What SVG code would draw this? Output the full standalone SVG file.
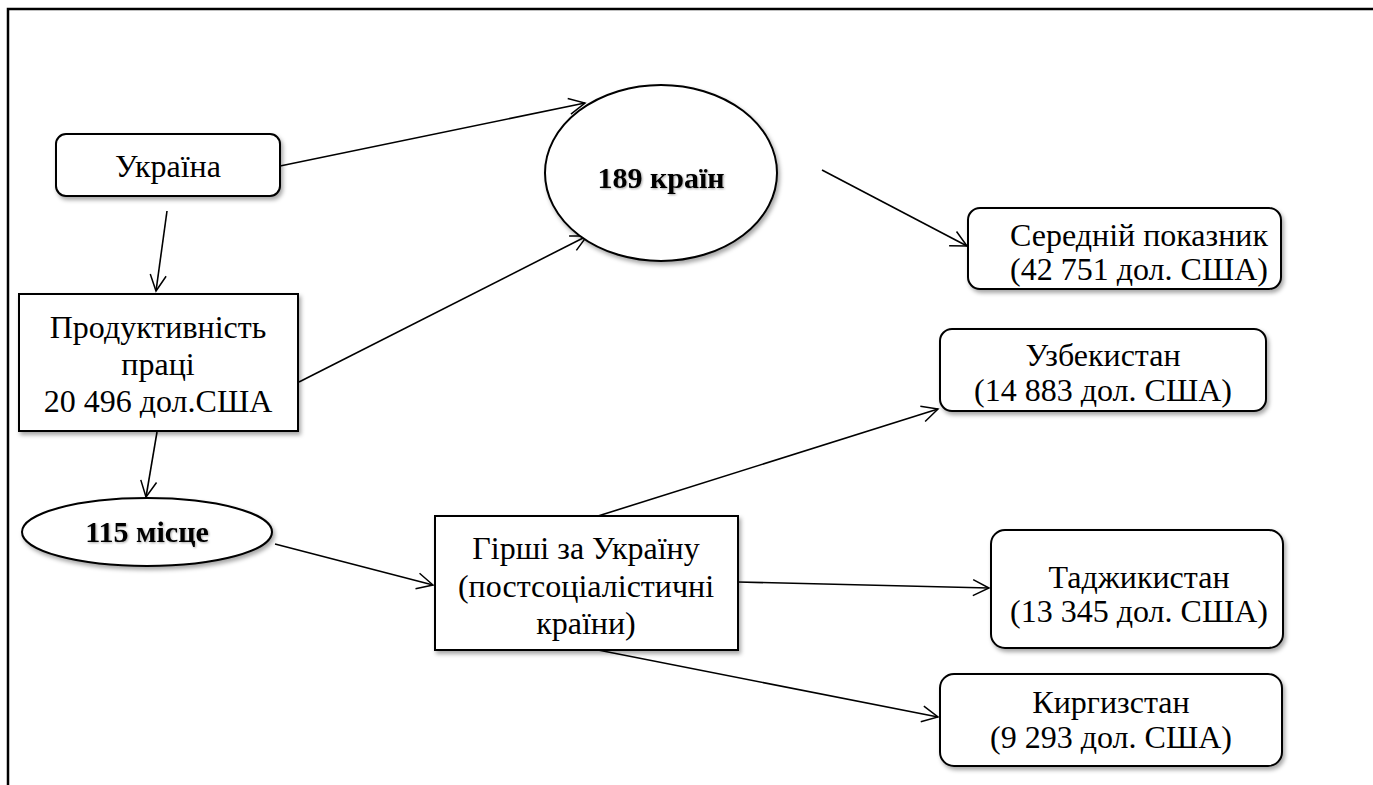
<svg xmlns="http://www.w3.org/2000/svg" width="1373" height="785" viewBox="0 0 1373 785">
<defs>
<filter id="sh" x="-10%" y="-10%" width="130%" height="140%">
<feDropShadow dx="2" dy="3" stdDeviation="2" flood-color="#000" flood-opacity="0.35"/>
</filter>
<filter id="tsh" x="-10%" y="-20%" width="120%" height="150%">
<feDropShadow dx="1" dy="1" stdDeviation="1" flood-color="#000" flood-opacity="0.35"/>
</filter>
<marker id="arr" viewBox="0 0 20 20" refX="18" refY="10" markerWidth="20" markerHeight="20" markerUnits="userSpaceOnUse" orient="auto">
<path d="M2,2 L18,10 L2,18" fill="none" stroke="#000" stroke-width="1.5"/>
</marker>
<style>
.box{fill:#fff;stroke:#000;stroke-width:2;filter:url(#sh)}
.t{font-family:"Liberation Serif","Times New Roman",serif;font-size:32px;fill:#000;text-anchor:middle}
.b{font-weight:bold;font-size:30px;filter:url(#tsh)}
.c{stroke:#000;stroke-width:1.6;fill:none;marker-end:url(#arr)}
</style>
</defs>
<rect width="1373" height="785" fill="#fff"/>
<path d="M8,785 V9 H1373" fill="none" stroke="#000" stroke-width="2.5"/>
<g id="connectors">
<line class="c" x1="280" y1="166" x2="585" y2="103"/>
<line class="c" x1="167" y1="211" x2="156" y2="291"/>
<line class="c" x1="299" y1="382" x2="587" y2="236"/>
<line class="c" x1="157" y1="432" x2="146" y2="497"/>
<line class="c" x1="822" y1="170" x2="967" y2="246"/>
<line class="c" x1="275" y1="544" x2="433" y2="585"/>
<line class="c" x1="598" y1="516" x2="938" y2="409"/>
<line class="c" x1="738" y1="582" x2="989" y2="588"/>
<line class="c" x1="598" y1="650" x2="938" y2="717"/>
</g>
<g id="ukraine">
<rect class="box" x="56" y="134" width="224" height="62" rx="10"/>
<text class="t" x="168" y="177" font-family="Liberation Serif, serif">Україна</text>
</g>
<g id="countries189">
<ellipse class="box" cx="661" cy="173" rx="116" ry="88"/>
<text class="t b" x="661" y="188" font-family="Liberation Serif, serif">189 країн</text>
</g>
<g id="average">
<rect class="box" x="968" y="208" width="313" height="81" rx="12"/>
<text class="t" x="1139" y="246" font-family="Liberation Serif, serif">Середній показник</text>
<text class="t" x="1139" y="280" font-family="Liberation Serif, serif">(42 751 дол. США)</text>
</g>
<g id="productivity">
<rect class="box" x="19" y="294" width="279" height="137"/>
<text class="t" x="158" y="338" font-family="Liberation Serif, serif">Продуктивність</text>
<text class="t" x="158" y="375" font-family="Liberation Serif, serif">праці</text>
<text class="t" x="158" y="412" font-family="Liberation Serif, serif">20 496 дол.США</text>
</g>
<g id="place115">
<ellipse class="box" cx="147" cy="532" rx="125" ry="34"/>
<text class="t b" x="147" y="542" font-family="Liberation Serif, serif">115 місце</text>
</g>
<g id="worse">
<rect class="box" x="435" y="516" width="303" height="134"/>
<text class="t" x="586" y="559" font-family="Liberation Serif, serif">Гірші за Україну</text>
<text class="t" x="586" y="597" font-family="Liberation Serif, serif">(постсоціалістичні</text>
<text class="t" x="586" y="634" font-family="Liberation Serif, serif">країни)</text>
</g>
<g id="uzbekistan">
<rect class="box" x="940" y="329" width="326" height="82" rx="12"/>
<text class="t" x="1103" y="366" font-family="Liberation Serif, serif">Узбекистан</text>
<text class="t" x="1103" y="401" font-family="Liberation Serif, serif">(14 883 дол. США)</text>
</g>
<g id="tajikistan">
<rect class="box" x="991" y="530" width="292" height="118" rx="14"/>
<text class="t" x="1139" y="588" font-family="Liberation Serif, serif">Таджикистан</text>
<text class="t" x="1139" y="622" font-family="Liberation Serif, serif">(13 345 дол. США)</text>
</g>
<g id="kyrgyzstan">
<rect class="box" x="940" y="674" width="342" height="92" rx="14"/>
<text class="t" x="1111" y="713" font-family="Liberation Serif, serif">Киргизстан</text>
<text class="t" x="1111" y="748" font-family="Liberation Serif, serif">(9 293 дол. США)</text>
</g>
</svg>
